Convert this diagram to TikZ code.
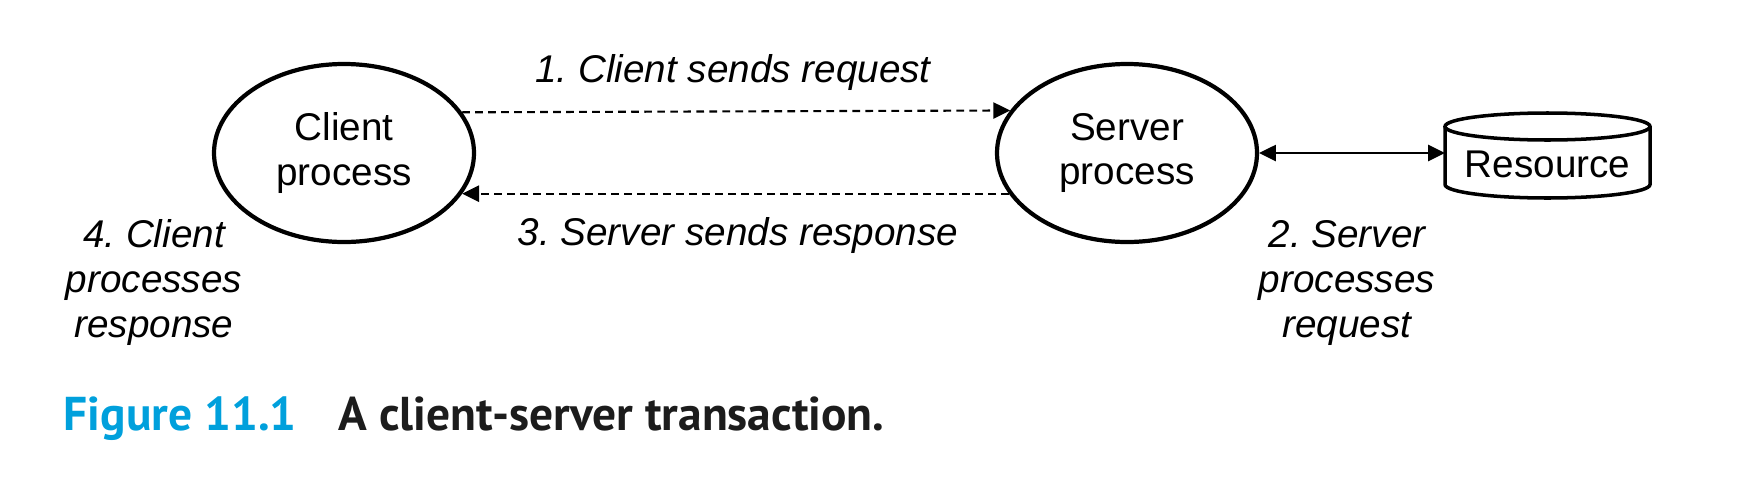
\documentclass[tikz,border=0pt]{standalone}
\usepackage{fontspec}
\setmainfont{Liberation Sans}
\newfontfamily\capfont{PT Sans}
\usetikzlibrary{shapes.geometric,arrows.meta}
\definecolor{figblue}{RGB}{0,160,220}
\definecolor{capgray}{RGB}{28,28,28}
\frenchspacing
\tikzset{
  every node/.append style={font=\fontsize{11}{12.7}\selectfont},
  proc/.style={ellipse,draw,line width=1.2pt,minimum width=2.6cm,minimum height=1.78cm,align=center,inner sep=0pt},
  msg/.style={line width=0.6pt,dash pattern=on 2.2pt off 1.5pt,-{Triangle[length=4.8pt,width=4.6pt]}},
  lbl/.style={align=center,font=\fontsize{11}{12.7}\selectfont\itshape},
  capt/.style={anchor=base west,inner sep=0pt,font=\capfont\bfseries\fontsize{13.5}{16}\selectfont}
}
\begin{document}
\begin{tikzpicture}
	\useasboundingbox (0,0) rectangle (17.46,4.9);
	\node[proc] (client) at (3.44,3.37) {Client\\process};
	\node[proc] (server) at (11.27,3.37) {Server\\process};
	\node[minimum width=2.05cm,minimum height=0.58cm,text height=0.45cm,inner sep=0pt,outer sep=0pt] (res) at (15.475,3.345) {Resource};
	% cylinder round the resource
	\draw[line width=1pt] (res.north west) -- (res.south west) arc[start angle=180,end angle=360,x radius=1.025cm,y radius=0.135cm] -- (res.north east);
	\draw[line width=1pt] (res.north) ellipse[x radius=1.025cm,y radius=0.135cm];
	\draw[msg] (client.19.7) -- (server.160.3);
	\draw[msg] (server.199.7) -- (client.-19.7);
	\draw[line width=0.6pt,{Triangle[length=4.8pt,width=4.6pt]}-{Triangle[length=4.8pt,width=4.6pt]}] (server.east) -- (server.east -| res.west);
	\node[lbl,anchor=base] (req) at (7.33,4.08) {1. Client sends request};
	\node[lbl,anchor=base] (resp) at (7.38,2.45) {3. Server sends response};
	% base of a three-line label is its last line
	\node[lbl,anchor=base] (cdone) at (1.54,1.53) {4. Client\\processes\\response};
	\node[lbl,anchor=base] (sdone) at (13.47,1.53) {2. Server\\processes\\request};
	\node[capt,text=figblue] (fig) at (0.63,0.60) {Figure 11.1};
	\node[capt,text=capgray] (cap) at (3.38,0.60) {A client-server transaction.};
\end{tikzpicture}
\end{document}
